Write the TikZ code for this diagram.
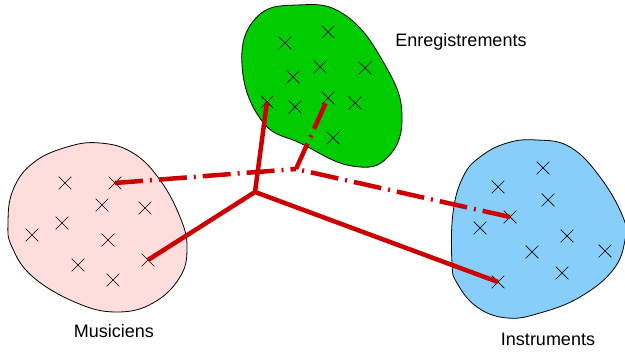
\documentclass[tikz,border=0pt]{standalone}
\usepackage{fontspec}
\setmainfont{Liberation Sans}
\usepackage{tikz}
\usetikzlibrary{shapes.misc}
\definecolor{LinkRed}{RGB}{204,0,0}
\definecolor{SetGreen}{RGB}{0,204,0}
\definecolor{SetPink}{RGB}{255,221,221}
\definecolor{SetBlue}{RGB}{135,206,250}

\begin{document}
\begin{tikzpicture}[x=1pt,y=-1pt,
  blob/.style={draw=black,line width=0.8pt},
  elt/.style={draw=black,cross out,minimum size=12pt,inner sep=0pt,line width=0.7pt},
  link/.style={draw=LinkRed,line width=4.5pt},
  dlink/.style={draw=LinkRed,line width=4.5pt,dash pattern=on 28pt off 7pt on 2pt off 7pt},
  lbl/.style={font=\fontsize{18}{20}\selectfont},
]
\useasboundingbox (0,0) rectangle (625,352);
% the three sets
\draw[blob,fill=SetGreen] plot[smooth cycle,tension=0.75] coordinates
  {(242,65) (256,18) (297,5) (345,15) (385,65) (402,115) (388,157)
   (352,166) (302,144) (262,121)};
\draw[blob,fill=SetPink] plot[smooth cycle,tension=0.7] coordinates
  {(8,223) (13,190) (33,163) (67,147) (100,143) (133,153) (160,180) (180,217)
   (187,247) (180,277) (153,303) (117,312) (77,303) (33,277) (12,247)};
\draw[blob,fill=SetBlue] plot[smooth cycle,tension=0.7] coordinates
  {(452,263) (453,213) (463,177) (480,157) (507,143) (537,140) (570,147)
   (600,177) (623,217) (625,240) (613,270) (580,297) (540,313) (507,318)
   (477,307) (457,283)};
% elements
\node[elt] (e1) at (285,43) {}; \node[elt] (e2) at (328,32) {};
\node[elt] (e3) at (293,77) {}; \node[elt] (e4) at (320,67) {};
\node[elt] (e5) at (365,68) {}; \node[elt] (e6) at (267,102) {};
\node[elt] (e7) at (295,107) {}; \node[elt] (e8) at (328,98) {};
\node[elt] (e9) at (355,103) {}; \node[elt] (e10) at (333,138) {};
\node[elt] (m1) at (65,183) {}; \node[elt] (m2) at (115,183) {};
\node[elt] (m3) at (102,205) {}; \node[elt] (m4) at (145,208) {};
\node[elt] (m5) at (62,223) {}; \node[elt] (m6) at (32,235) {};
\node[elt] (m7) at (108,240) {}; \node[elt] (m8) at (78,265) {};
\node[elt] (m9) at (113,280) {}; \node[elt] (m10) at (148,260) {};
\node[elt] (i1) at (543,168) {}; \node[elt] (i2) at (498,187) {};
\node[elt] (i3) at (548,200) {}; \node[elt] (i4) at (510,217) {};
\node[elt] (i5) at (480,228) {}; \node[elt] (i6) at (567,236) {};
\node[elt] (i7) at (532,252) {}; \node[elt] (i8) at (605,251) {};
\node[elt] (i9) at (562,273) {}; \node[elt] (i10) at (498,282) {};
% labels
\node[lbl] (enr) at (461,42) {Enregistrements};
\node[lbl] (mus) at (114,331) {Musiciens};
\node[lbl] (ins) at (548,339) {Instruments};
% links
\coordinate (j1) at (255,192);
\coordinate (j2) at (296,169);
\draw[link] (m10.center) -- (j1) -- (i10.center);
\draw[link] (j1) -- (e6.center);
\draw[dlink] (m2.center) -- (j2);
\draw[dlink] (i4.center) -- (j2);
\draw[dlink] (j2) -- (e8.center);
\end{tikzpicture}
\end{document}
